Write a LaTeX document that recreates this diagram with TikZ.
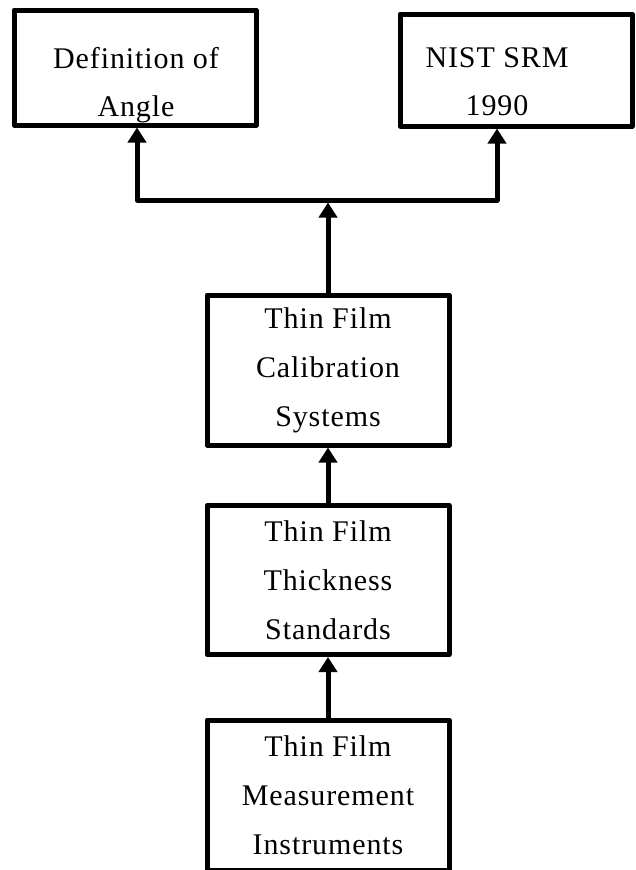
\documentclass[tikz,border=0pt]{standalone}
\usepackage{fontspec}
\setmainfont{Liberation Serif}[LetterSpace=3]
\usetikzlibrary{arrows.meta}

\begin{document}
\begin{tikzpicture}[x=1pt, y=-1pt, line width=5pt, line join=round, >={Triangle[width=18pt, length=15pt]},
  box/.style = {draw, rectangle, inner sep=0pt, minimum width=242pt, minimum height=150pt, align=center, font=\fontsize{30}{49}\selectfont},
  lbl/.style = {align=center, inner sep=0pt, font=\fontsize{30}{48}\selectfont}]
  \useasboundingbox (0,0) rectangle (635,870);
  % top row
  \node[box, minimum height=115pt] (def) at (135,67.5) {};
  \node[lbl] (deft) at (136,85) {Definition of\\Angle};
  \node[box, minimum width=232pt, minimum height=112pt] (nist) at (516,70) {};
  \node[lbl] (nistt) at (497,82) {NIST SRM\\1990};
  % column
  \node[box] (cal) at (328,370) {Thin Film\\Calibration\\Systems};
  \node[box, minimum height=149pt] (thick) at (328,580) {Thin Film\\Thickness\\Standards};
  \node[box] (meas) at (328,795) {Thin Film\\Measurement\\Instruments};
  \coordinate (j) at (328,200);
  \draw[->] (meas) -- (thick);
  \draw[->] (thick) -- (cal);
  \draw[->] (cal) -- ([yshift=-2.5pt]j);
  \draw[->] (j) -| ([xshift=2pt]def.south);
  \draw[->] (j) -| ([xshift=-19pt]nist.south);
\end{tikzpicture}
\end{document}
